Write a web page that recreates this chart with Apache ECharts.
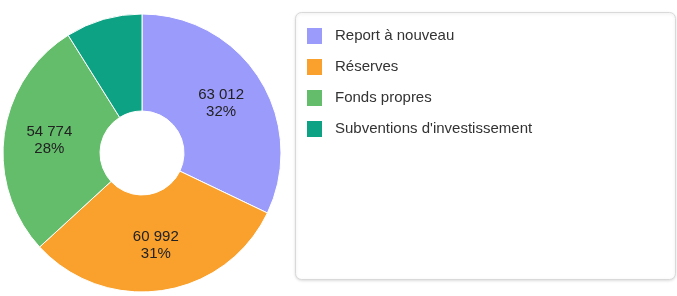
<!DOCTYPE html>
<html>
<head>
<meta charset="utf-8">
<script src="https://cdn.jsdelivr.net/npm/echarts@6/dist/echarts.min.js"></script>
<style>
html,body{margin:0;padding:0;background:#fff;}
#chart{width:677px;height:296px;}
</style>
</head>
<body>
<div id="chart"></div>
<script>
var categories = ["Report à nouveau", "Réserves", "Fonds propres", "Subventions d'investissement"];
var values = [63012, 60992, 54774, 17500];
var showLabel = [true, true, true, false];
var colors = ["#9b9bfb", "#f9a12c", "#63bd6b", "#0ca283"];

function fmt(v) {
  return String(v).replace(/\B(?=(\d{3})+(?!\d))/g, " ");
}

var chart = echarts.init(document.getElementById('chart'), null, {renderer: 'canvas'});
chart.setOption({
  animation: false,
  color: colors,
  graphic: [{
    type: 'rect',
    shape: {x: 295.5, y: 12.5, width: 380, height: 267, r: 6},
    style: {fill: '#fff', stroke: '#d9d9d9', lineWidth: 1, shadowBlur: 3, shadowColor: 'rgba(0,0,0,0.12)', shadowOffsetY: 1},
    z: -10
  }],
  legend: {
    orient: 'vertical',
    left: 300,
    top: 21,
    itemWidth: 17,
    itemHeight: 18,
    itemGap: 11,
    icon: 'rect',
    textStyle: {fontFamily: 'Liberation Sans, Arial, sans-serif', fontSize: 15, color: '#333', padding: [0, 0, 0, 7]},
    data: categories
  },
  series: [{
    type: 'pie',
    center: [142, 153],
    radius: [42, 139],
    startAngle: 90,
    clockwise: true,
    avoidLabelOverlap: false,
    itemStyle: {borderColor: '#fff', borderWidth: 1},
    label: {
      show: true,
      position: 'inside',
      fontFamily: 'Liberation Sans, Arial, sans-serif',
      fontSize: 15,
      lineHeight: 17,
      color: '#222',
      formatter: function (p) { return fmt(p.value) + '\n' + Math.round(p.percent) + '%'; }
    },
    labelLine: {show: false},
    data: categories.map(function (c, i) {
      return {name: c, value: values[i], label: {show: showLabel[i]}};
    })
  }]
});
</script>
</body>
</html>
